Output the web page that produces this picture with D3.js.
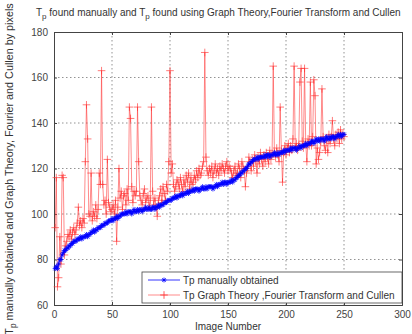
<!DOCTYPE html>
<html>
<head>
<meta charset="utf-8">
<script src="https://cdn.jsdelivr.net/npm/d3@7"></script>
<style>
  body { margin: 0; background: #fff; }
  svg text { font-family: "Liberation Sans", Arial, sans-serif; fill: #333; }
</style>
</head>
<body>
<div id="chart"></div>
<script>
// Tp manually obtained, images 1..250
var manual = [
  76, 77, 76, 78, 80, 80, 82, 83, 84, 84,
  85, 85, 86, 86, 87, 87, 88, 88, 88, 89,
  89, 89, 90, 89, 90, 90, 90, 91, 90, 91,
  91, 92, 92, 93, 92, 93, 93, 94, 94, 94,
  95, 95, 95, 96, 96, 96, 97, 97, 97, 98,
  97, 98, 98, 99, 98, 99, 99, 100, 100, 100,
  100, 101, 100, 101, 101, 101, 100, 101, 102, 101,
  101, 102, 101, 102, 102, 101, 102, 102, 103, 102,
  102, 103, 102, 102, 103, 103, 102, 103, 103, 104,
  103, 104, 104, 104, 105, 105, 105, 106, 106, 106,
  106, 107, 107, 107, 108, 107, 108, 108, 108, 109,
  108, 109, 109, 109, 110, 109, 110, 110, 110, 111,
  110, 111, 111, 111, 110, 111, 111, 112, 111, 111,
  112, 111, 112, 112, 112, 112, 111, 112, 112, 113,
  112, 113, 113, 113, 114, 113, 114, 114, 113, 114,
  114, 114, 115, 114, 115, 115, 116, 116, 117, 117,
  118, 118, 119, 119, 120, 120, 121, 122, 122, 123,
  123, 124, 124, 124, 125, 124, 125, 125, 125, 125,
  125, 126, 125, 126, 126, 125, 126, 126, 126, 127,
  126, 126, 127, 126, 127, 127, 127, 128, 127, 128,
  128, 128, 128, 129, 128, 129, 129, 129, 128, 129,
  129, 130, 129, 130, 130, 130, 131, 130, 131, 131,
  131, 132, 132, 131, 132, 133, 132, 133, 132, 133,
  133, 133, 132, 133, 134, 133, 133, 134, 133, 134,
  134, 133, 134, 134, 135, 134, 135, 134, 135, 135
];

// Tp from Graph Theory, Fourier Transform and Cullen
var computed = [
  94, 116, 68, 72, 90, 78, 117, 116, 82, 86,
  88, 91, 90, 93, 89, 92, 94, 91, 93, 96,
  103, 95, 97, 94, 98, 96, 123, 148, 133, 100,
  99, 118, 97, 101, 99, 104, 98, 102, 118, 113,
  163, 113, 104, 106, 100, 124, 105, 103, 101, 102,
  104, 100, 106, 88, 103, 120, 107, 110, 102, 108,
  109, 104, 111, 106, 147, 142, 112, 105, 110, 108,
  110, 147, 123, 108, 106, 104, 109, 111, 105, 107,
  108, 103, 106, 147, 110, 104, 107, 103, 99, 106,
  108, 111, 105, 112, 109, 106, 113, 110, 123, 163,
  118, 122, 113, 110, 112, 115, 114, 111, 116, 113,
  110, 115, 112, 117, 114, 118, 111, 116, 113, 114,
  117, 115, 119, 116, 120, 117, 118, 121, 123, 171,
  125, 119, 117, 120, 118, 121, 116, 119, 122, 118,
  120, 117, 121, 119, 122, 120, 118, 121, 123, 119,
  121, 120, 118, 116, 119, 121, 117, 118, 122, 120,
  116, 123, 121, 119, 112, 118, 120, 125, 123, 119,
  124, 121, 126, 123, 118, 125, 122, 127, 124, 121,
  126, 123, 127, 125, 122, 128, 124, 126, 165, 127,
  125, 129, 126, 123, 147, 128, 114, 127, 130, 126,
  129, 131, 127, 130, 128, 133, 165, 129, 131, 128,
  130, 158, 164, 132, 129, 164, 131, 123, 133, 130,
  158, 130, 134, 159, 152, 122, 129, 124, 127, 132,
  155, 134, 130, 128, 133, 127, 135, 131, 134, 141,
  133, 130, 135, 133, 136, 131, 137, 133, 135, 134
];

var xTicks = [0, 50, 100, 150, 200, 250, 300];
var yTicks = [60, 80, 100, 120, 140, 160, 180];
var legendLabels = ["Tp manually obtained", "Tp Graph Theory ,Fourier Transform and Cullen"];

var W = 412, H = 334;
var margin = {top: 32, right: 10, bottom: 29, left: 54},
    width = W - margin.left - margin.right,
    height = H - margin.top - margin.bottom;

var svg = d3.select("#chart").append("svg")
    .attr("width", W)
    .attr("height", H);

var g = svg.append("g")
    .attr("transform", "translate(" + margin.left + "," + margin.top + ")");

var x = d3.scaleLinear().domain([0, 300]).range([0, width]);
var y = d3.scaleLinear().domain([60, 180]).range([height, 0]);

// grid
g.selectAll(".gx").data(xTicks.slice(1, -1)).enter().append("line")
    .attr("x1", function(d) { return x(d); })
    .attr("x2", function(d) { return x(d); })
    .attr("y1", 0).attr("y2", height)
    .attr("stroke", "#777").attr("stroke-width", 0.8)
    .attr("stroke-dasharray", "1.5,2.5");
g.selectAll(".gy").data(yTicks.slice(1, -1)).enter().append("line")
    .attr("y1", function(d) { return y(d); })
    .attr("y2", function(d) { return y(d); })
    .attr("x1", 0).attr("x2", width)
    .attr("stroke", "#777").attr("stroke-width", 0.8)
    .attr("stroke-dasharray", "1.5,2.5");

// axes (ticks inward, matlab style)
g.append("g")
    .attr("transform", "translate(0," + height + ")")
    .call(d3.axisBottom(x).tickValues(xTicks).tickSize(-3).tickPadding(6));
g.append("g")
    .call(d3.axisLeft(y).tickValues(yTicks).tickSize(-3).tickPadding(6));
g.append("g")
    .call(d3.axisTop(x).tickValues(xTicks).tickSize(-3).tickFormat(""));
g.append("g")
    .attr("transform", "translate(" + width + ",0)")
    .call(d3.axisRight(y).tickValues(yTicks).tickSize(-3).tickFormat(""));
g.selectAll(".domain").attr("stroke", "#444");
g.selectAll(".tick line").attr("stroke", "#444");
g.selectAll(".tick text").style("font-size", "10px").style("fill", "#444");

var line = d3.line()
    .x(function(d, i) { return x(i + 1); })
    .y(function(d) { return y(d); });

// computed series (red)
g.append("path").datum(computed)
    .attr("d", line)
    .attr("fill", "none")
    .attr("stroke", "#ff3030")
    .attr("stroke-opacity", 0.7)
    .attr("stroke-width", 0.8);

var plus = "M-3.8,0H3.8M0,-3.8V3.8";
g.selectAll(".plus").data(computed).enter().append("path")
    .attr("transform", function(d, i) { return "translate(" + x(i + 1) + "," + y(d) + ")"; })
    .attr("d", plus)
    .attr("stroke", "#ff3030")
    .attr("stroke-opacity", 0.8)
    .attr("stroke-width", 0.8);

// manual series (blue)
g.append("path").datum(manual)
    .attr("d", line)
    .attr("fill", "none")
    .attr("stroke", "#0000ff")
    .attr("stroke-width", 0.8);

var star = "M-2.5,0H2.5M0,-2.5V2.5M-1.8,-1.8L1.8,1.8M-1.8,1.8L1.8,-1.8";
g.selectAll(".star").data(manual).enter().append("path")
    .attr("transform", function(d, i) { return "translate(" + x(i + 1) + "," + y(d) + ")"; })
    .attr("d", star)
    .attr("stroke", "#0000ff")
    .attr("stroke-width", 0.8);

// legend
var lg = g.append("g").attr("transform", "translate(" + (142 - margin.left) + "," + (272 - margin.top) + ")");
lg.append("rect")
    .attr("width", width - (142 - margin.left))
    .attr("height", 31)
    .attr("fill", "#fff")
    .attr("stroke", "#444")
    .attr("stroke-width", 0.8);
var legColors = ["#0000ff", "#ff3030"];
var legMarks = [star, plus];
legendLabels.forEach(function(lab, i) {
  var yy = 8 + i * 15;
  lg.append("line").attr("x1", 6).attr("x2", 38).attr("y1", yy).attr("y2", yy)
    .attr("stroke", legColors[i]).attr("stroke-width", 0.8).attr("stroke-opacity", i ? 0.7 : 1);
  lg.append("path").attr("transform", "translate(22," + yy + ")")
    .attr("d", legMarks[i]).attr("stroke", legColors[i]).attr("stroke-width", 0.8);
  lg.append("text").attr("x", 41).attr("y", yy + 3.5)
    .style("font-size", "10px").text(lab);
});

// x label
svg.append("text")
    .attr("x", margin.left + width / 2)
    .attr("y", 330)
    .attr("text-anchor", "middle")
    .style("font-size", "10px")
    .text("Image Number");

// y label with subscript
var yl = svg.append("text")
    .attr("transform", "translate(13,169) rotate(-90)")
    .attr("text-anchor", "middle")
    .style("font-size", "10.8px");
yl.append("tspan").text("T");
yl.append("tspan").attr("dy", 3).style("font-size", "8.5px").text("p");
yl.append("tspan").attr("dy", -3).text(" manually obtained and Graph Theory, Fourier and Cullen by pixels");

// title with subscripts
var t = svg.append("text")
    .attr("x", 36)
    .attr("y", 16)
    .style("font-size", "10px");
t.append("tspan").text("T");
t.append("tspan").attr("dy", 3).style("font-size", "8px").text("p");
t.append("tspan").attr("dy", -3).text(" found manually and T");
t.append("tspan").attr("dy", 3).style("font-size", "8px").text("p");
t.append("tspan").attr("dy", -3).text(" found using Graph Theory,Fourier Transform  and Cullen");
</script>
</body>
</html>
